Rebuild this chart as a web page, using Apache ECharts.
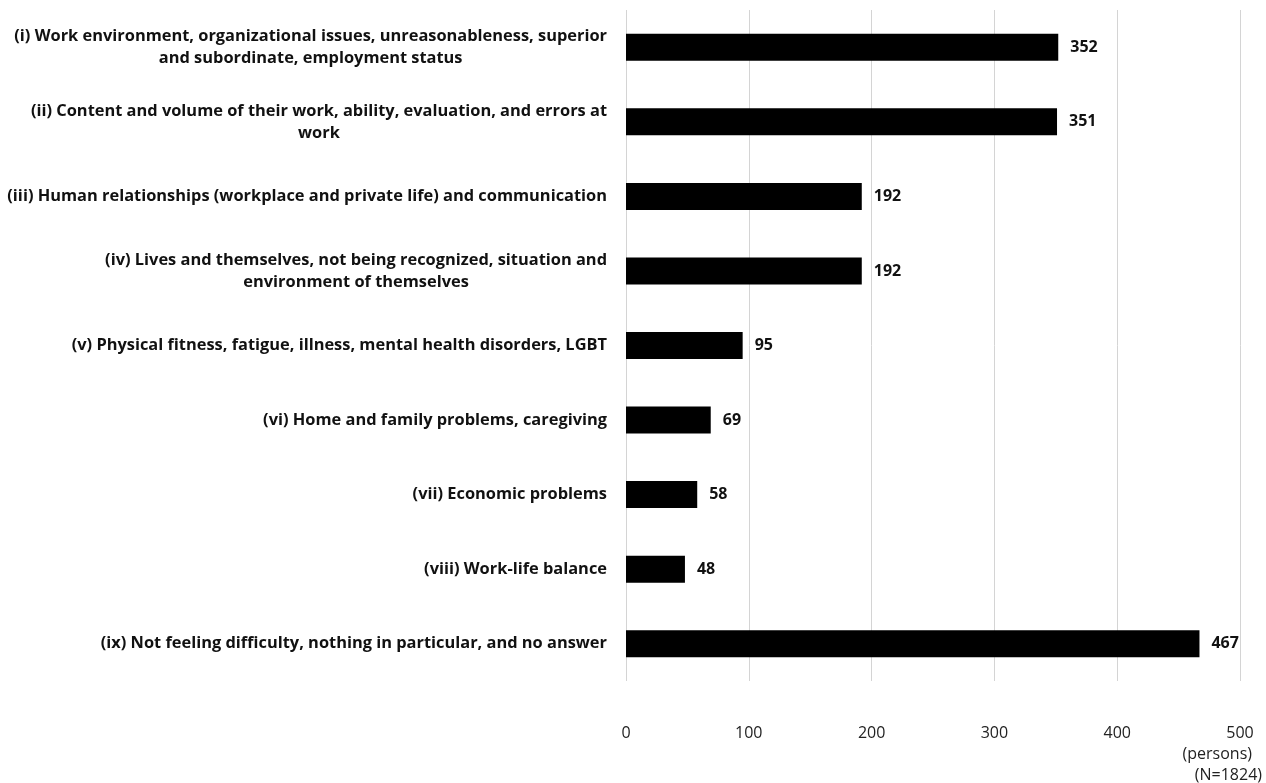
<!DOCTYPE html>
<html><head><meta charset="utf-8">
<script src="https://cdn.jsdelivr.net/npm/echarts@6/dist/echarts.min.js"></script>
<style>html,body{margin:0;padding:0;background:#fff}#c{width:1266px;height:783px}</style>
</head><body><div id="c"></div>
<script>
const categories = [
  "(i) Work environment, organizational issues, unreasonableness, superior\nand subordinate, employment status",
  "(ii) Content and volume of their work, ability, evaluation, and errors at\nwork",
  "(iii) Human relationships (workplace and private life) and communication",
  "(iv) Lives and themselves, not being recognized, situation and\nenvironment of themselves",
  "(v) Physical fitness, fatigue, illness, mental health disorders, LGBT",
  "(vi) Home and family problems, caregiving",
  "(vii) Economic problems",
  "(viii) Work-life balance",
  "(ix) Not feeling difficulty, nothing in particular, and no answer"
];
const values = [352, 351, 192, 192, 95, 69, 58, 48, 467];
const xTicks = [0, 100, 200, 300, 400, 500];
const unitLabel = "(persons)";
const noteLabel = "(N=1824)";

const FONT = "Open Sans";
const chart = echarts.init(document.getElementById('c'), null, {renderer: 'canvas'});
chart.setOption({
  animation: false,
  backgroundColor: '#ffffff',
  grid: {left: 626, right: 26, top: 10, bottom: 102, containLabel: false},
  xAxis: {
    type: 'value', min: xTicks[0], max: xTicks[xTicks.length - 1], interval: 100,
    axisLine: {show: false}, axisTick: {show: false},
    splitLine: {show: true, lineStyle: {color: '#d4d4d4', width: 1}},
    axisLabel: {margin: 44, color: '#222', fontFamily: FONT, fontSize: 16}
  },
  yAxis: {
    type: 'category', data: categories, inverse: true,
    axisLine: {show: false}, axisTick: {show: false},
    axisLabel: {
      margin: 19, color: '#111', fontFamily: FONT, fontSize: 16.4, fontWeight: 'bold',
      formatter: v => v.split('\n').map(l => '{c|' + l + '}').join('\n'),
      rich: {c: {align: 'center', fontFamily: FONT, fontSize: 16.4, fontWeight: 'bold', color: '#111', lineHeight: 22}}
    }
  },
  series: [{
    type: 'bar', data: values, barWidth: 27,
    itemStyle: {color: '#000'},
    label: {show: true, position: 'right', distance: 12, color: '#111', fontFamily: FONT, fontSize: 16, fontWeight: 'bold'}
  }],
  graphic: [
    {type: 'text', right: 14, top: 746, style: {text: unitLabel, fontFamily: FONT, fontSize: 16, fill: '#222'}},
    {type: 'text', right: 4, top: 767, style: {text: noteLabel, fontFamily: FONT, fontSize: 16, fill: '#222'}}
  ]
});
</script></body></html>
